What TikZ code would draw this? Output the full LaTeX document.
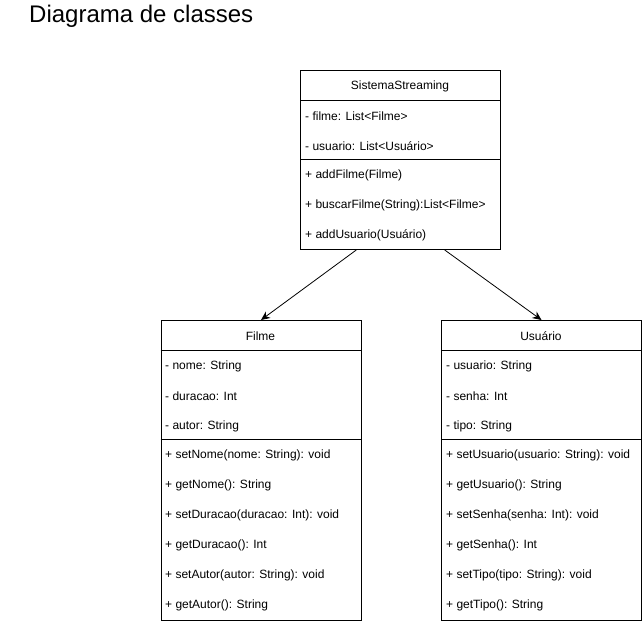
\documentclass[tikz,border=0pt]{standalone}
\usepackage{fontspec}
\setmainfont{Liberation Sans}
\usetikzlibrary{arrows.meta,calc}

\begin{document}
\begin{tikzpicture}[x=1pt,y=-1pt,
    classbox/.style={draw,line width=1pt,anchor=north west,minimum width=200pt,inner sep=0pt},
    rowtext/.style={anchor=west,inner sep=0pt,yshift=-1pt,font=\fontsize{12}{14}\selectfont},
    headtext/.style={inner sep=0pt,yshift=-1pt,font=\fontsize{12}{14}\selectfont},
    assoc/.style={line width=0.8pt,-{Stealth[length=9pt,width=8pt]}}]
        \useasboundingbox (0,0) rectangle (643,621);
        \node[anchor=base west,inner sep=0pt,font=\fontsize{24}{28}\selectfont] (titulo) at (29,23) {Diagrama de classes};

        % SistemaStreaming
        \node[classbox,minimum height=179pt] (sistema) at (300,70) {};
        \node[headtext] (sistemaNome) at (400,85) {SistemaStreaming};
        \draw[line width=1pt] (300,100) -- (500,100);
        \node[rowtext] (sistemaA1) at (305,115) {- filme: List<Filme>};
        \node[rowtext] (sistemaA2) at (305,145) {- usuario: List<Usuário>};
        \draw[line width=1pt] (300,159) -- (500,159);
        \node[rowtext] (sistemaM1) at (305,174) {+ addFilme(Filme)};
        \node[rowtext] (sistemaM2) at (305,204) {+ buscarFilme(String):List<Filme>};
        \node[rowtext] (sistemaM3) at (305,234) {+ addUsuario(Usuário)};

        % Filme
        \node[classbox,minimum height=300pt] (filme) at (160.5,320) {};
        \node[headtext] (filmeNome) at (260.5,335) {Filme};
        \draw[line width=1pt] (160.5,350) -- (360.5,350);
        \node[rowtext] (filmeA1) at (165,365) {- nome: String};
        \node[rowtext] (filmeA2) at (165,395) {- duracao: Int};
        \node[rowtext] (filmeA3) at (165,425) {- autor: String};
        \draw[line width=1pt] (160.5,439) -- (360.5,439);
        \node[rowtext] (filmeM1) at (165,454) {+ setNome(nome: String): void};
        \node[rowtext] (filmeM2) at (165,484) {+ getNome(): String};
        \node[rowtext] (filmeM3) at (165,514) {+ setDuracao(duracao: Int): void};
        \node[rowtext] (filmeM4) at (165,544) {+ getDuracao(): Int};
        \node[rowtext] (filmeM5) at (165,574) {+ setAutor(autor: String): void};
        \node[rowtext] (filmeM6) at (165,604) {+ getAutor(): String};

        % Usuario
        \node[classbox,minimum height=300pt] (usuario) at (441,320) {};
        \node[headtext] (usuarioNome) at (541,335) {Usuário};
        \draw[line width=1pt] (441,350) -- (641,350);
        \node[rowtext] (usuarioA1) at (446,365) {- usuario: String};
        \node[rowtext] (usuarioA2) at (446,395) {- senha: Int};
        \node[rowtext] (usuarioA3) at (446,425) {- tipo: String};
        \draw[line width=1pt] (441,439) -- (641,439);
        \node[rowtext] (usuarioM1) at (446,454) {+ setUsuario(usuario: String): void};
        \node[rowtext] (usuarioM2) at (446,484) {+ getUsuario(): String};
        \node[rowtext] (usuarioM3) at (446,514) {+ setSenha(senha: Int): void};
        \node[rowtext] (usuarioM4) at (446,544) {+ getSenha(): Int};
        \node[rowtext] (usuarioM5) at (446,574) {+ setTipo(tipo: String): void};
        \node[rowtext] (usuarioM6) at (446,604) {+ getTipo(): String};

        % associacoes
        \draw[assoc] ($(sistema.south west)!0.28!(sistema.south east)$) -- (filme.north);
        \draw[assoc] ($(sistema.south west)!0.72!(sistema.south east)$) -- (usuario.north);
    \end{tikzpicture}
\end{document}
